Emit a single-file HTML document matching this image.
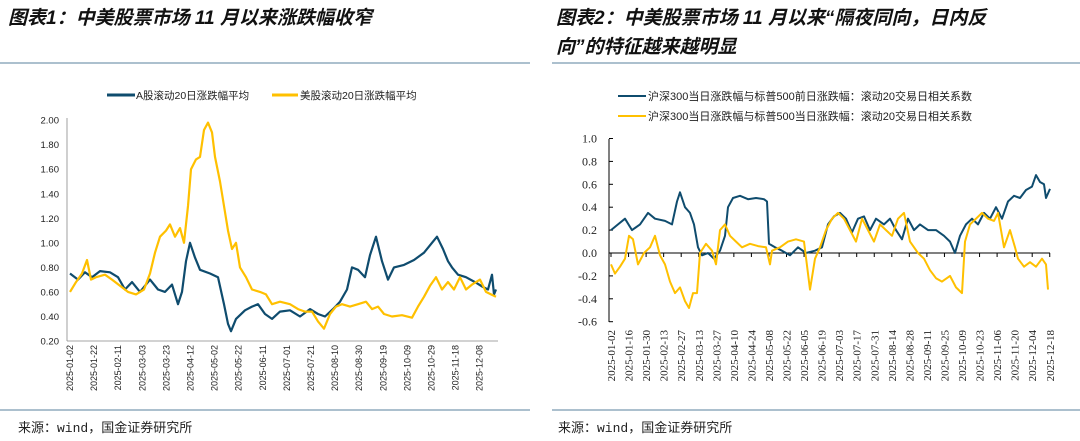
<!DOCTYPE html>
<html><head><meta charset="utf-8">
<style>
body{margin:0;background:#fff;width:1080px;height:441px;overflow:hidden;font-family:"Liberation Sans","Noto Sans CJK SC",sans-serif}
svg{position:absolute;left:0;top:0}
</style></head><body>
<svg id="s" width="1080" height="441" xmlns="http://www.w3.org/2000/svg">
<text x="8" y="24" font-size="19" font-weight="bold" font-style="italic" fill="#111" font-family="Liberation Sans,Noto Sans CJK SC,sans-serif">图表1：中美股票市场 11 月以来涨跌幅收窄</text>
<text x="556" y="24" font-size="19" font-weight="bold" font-style="italic" fill="#111" font-family="Liberation Sans,Noto Sans CJK SC,sans-serif">图表2：中美股票市场 11 月以来“隔夜同向，日内反</text>
<text x="556" y="53" font-size="19" font-weight="bold" font-style="italic" fill="#111" font-family="Liberation Sans,Noto Sans CJK SC,sans-serif">向”的特征越来越明显</text>
<line x1="0" y1="63" x2="530" y2="63" stroke="#7a9bb0" stroke-width="1.2"/>
<line x1="552" y1="63" x2="1080" y2="63" stroke="#7a9bb0" stroke-width="1.2"/>
<line x1="0" y1="410" x2="530" y2="410" stroke="#7a9bb0" stroke-width="1.2"/>
<line x1="552" y1="410" x2="1080" y2="410" stroke="#7a9bb0" stroke-width="1.2"/>
<text x="18" y="432" font-size="13" fill="#222" font-family="Liberation Mono,Noto Sans CJK SC,monospace">来源：wind，国金证券研究所</text>
<text x="558" y="432" font-size="13" fill="#222" font-family="Liberation Mono,Noto Sans CJK SC,monospace">来源：wind，国金证券研究所</text>
<!-- legend left -->
<line x1="107" y1="95" x2="135" y2="95" stroke="#0f4c6e" stroke-width="3"/>
<text x="136" y="99" font-size="10.5" fill="#222">A股滚动20日涨跌幅平均</text>
<line x1="272" y1="95" x2="298" y2="95" stroke="#ffc000" stroke-width="3"/>
<text x="300" y="99" font-size="10.5" fill="#222">美股滚动20日涨跌幅平均</text>
<!-- legend right -->
<line x1="618" y1="96" x2="646" y2="96" stroke="#0f4c6e" stroke-width="2"/>
<text x="648" y="100" font-size="11" fill="#222">沪深300当日涨跌幅与标普500前日涨跌幅：滚动20交易日相关系数</text>
<line x1="618" y1="116" x2="646" y2="116" stroke="#ffc000" stroke-width="2"/>
<text x="648" y="120" font-size="11" fill="#222">沪深300当日涨跌幅与标普500当日涨跌幅：滚动20交易日相关系数</text>
<g id="g"></g>
</svg>
<script>
var g=document.getElementById('g'),h='';
function t(x,y,s,sz,anc,ff,rot){h+='<text x="'+x+'" y="'+y+'" font-size="'+sz+'" text-anchor="'+anc+'" fill="#222" font-family="'+ff+'"'+(rot?' transform="rotate(-90 '+x+' '+y+')"':'')+'>'+s+'</text>';}
function L(a,b,c,d,col,w){h+='<line x1="'+a+'" y1="'+b+'" x2="'+c+'" y2="'+d+'" stroke="'+col+'" stroke-width="'+w+'"/>';}
function P(pts,f,col,w){var s=[];for(var i=0;i<pts.length;i+=2)s.push(pts[i]+','+f(pts[i+1]).toFixed(1));h+='<polyline points="'+s.join(' ')+'" fill="none" stroke="'+col+'" stroke-width="'+w+'" stroke-linejoin="round"/>';}
// left chart
var fy=function(v){return 341-(v-0.2)*122.7;};
L(67,118,67,341,'#888',0.8);L(67,341,498,341,'#888',0.8);
for(var v=0.2;v<2.01;v+=0.2){t(59,fy(v)+3.5,v.toFixed(2),9.5,'end','Liberation Sans');}
var dl=['01-02','01-22','02-11','03-03','03-23','04-12','05-02','05-22','06-11','07-01','07-21','08-10','08-30','09-19','10-09','10-29','11-18','12-08'];
for(var i=0;i<dl.length;i++){var x=70+i*24.1;t(x+3,345,'2025-'+dl[i],9,'end','Liberation Sans',1);}
P([70,0.75,78,0.7,85,0.76,92,0.72,100,0.77,110,0.76,118,0.72,125,0.62,132,0.68,140,0.6,150,0.7,158,0.62,165,0.6,172,0.66,178,0.5,182,0.6,186,0.85,190,1.0,195,0.88,200,0.78,210,0.75,218,0.72,224,0.5,228,0.34,231,0.28,236,0.38,245,0.45,252,0.48,258,0.5,265,0.42,272,0.38,280,0.44,290,0.45,300,0.4,310,0.46,318,0.42,325,0.4,333,0.46,340,0.52,347,0.62,352,0.8,358,0.78,365,0.72,370,0.9,376,1.05,382,0.85,388,0.7,394,0.8,404,0.82,414,0.86,424,0.92,432,1.0,437,1.05,443,0.95,448,0.85,452,0.8,458,0.74,466,0.72,475,0.68,483,0.64,488,0.62,492,0.74,494,0.58,496,0.62],fy,'#0f4c6e',2.2);
P([70,0.6,76,0.68,82,0.75,87,0.86,91,0.7,96,0.72,105,0.74,112,0.7,120,0.65,128,0.6,136,0.58,144,0.62,150,0.75,155,0.92,160,1.05,166,1.1,170,1.15,175,1.05,180,1.12,184,1.0,188,1.3,191,1.6,196,1.68,200,1.7,204,1.92,208,1.98,212,1.9,215,1.7,220,1.5,224,1.3,228,1.1,232,0.95,236,1.0,240,0.8,246,0.72,252,0.62,260,0.6,266,0.58,272,0.5,280,0.52,290,0.5,298,0.46,305,0.44,312,0.44,318,0.36,324,0.3,330,0.42,336,0.48,342,0.5,350,0.48,358,0.5,366,0.52,372,0.46,378,0.48,384,0.42,392,0.4,402,0.41,412,0.39,418,0.48,424,0.56,430,0.65,436,0.72,442,0.62,448,0.68,454,0.62,460,0.72,466,0.62,472,0.66,480,0.7,486,0.6,491,0.58,496,0.56],fy,'#ffc000',2.2);
// right chart
var gy=function(v){return 253-v*114.5;};
L(609,139,609,322,'#000',1);L(609,253,1050,253,'#000',1);
for(var v=-0.6;v<1.01;v+=0.2){var vv=Math.round(v*10)/10;t(597,gy(vv)+4,(vv==0?'0.0':vv.toFixed(1)),12,'end','Liberation Serif');L(609,gy(vv),613,gy(vv),'#000',1);}
var d2=['01-02','01-16','01-30','02-13','02-27','03-13','03-27','04-10','04-24','05-08','05-22','06-05','06-19','07-03','07-17','07-31','08-14','08-28','09-11','09-25','10-09','10-23','11-06','11-20','12-04','12-18'];
for(var i=0;i<d2.length;i++){var x=611+i*17.55;t(x+4,330,'2025-'+d2[i],11,'end','Liberation Serif',1);L(x,253,x,257,'#000',1);}
P([611,0.2,618,0.25,625,0.3,632,0.2,640,0.25,648,0.35,655,0.3,665,0.28,672,0.25,677,0.45,680,0.53,685,0.4,690,0.35,694,0.25,698,0.05,702,-0.02,708,0.0,714,-0.05,720,0.02,725,0.15,728,0.4,733,0.48,740,0.5,748,0.47,756,0.48,764,0.47,767,0.45,769,0.08,775,0.05,782,0.02,790,-0.02,798,0.05,806,0.0,815,0.02,822,0.05,828,0.25,834,0.32,840,0.35,846,0.3,852,0.18,858,0.3,864,0.32,870,0.2,876,0.3,884,0.25,890,0.3,896,0.2,902,0.12,908,0.3,914,0.2,920,0.25,928,0.2,936,0.2,944,0.15,950,0.1,955,0.0,960,0.15,966,0.25,972,0.3,978,0.25,984,0.35,990,0.3,996,0.4,1002,0.3,1008,0.45,1014,0.5,1020,0.48,1026,0.55,1032,0.58,1036,0.68,1040,0.62,1044,0.6,1046,0.48,1050,0.56],gy,'#0f4c6e',2);
P([611,-0.1,615,-0.18,620,-0.12,625,-0.05,629,0.15,633,0.12,638,-0.1,644,0.0,650,0.05,655,0.15,660,-0.02,665,-0.1,670,-0.25,675,-0.35,680,-0.3,685,-0.42,689,-0.48,693,-0.35,697,-0.35,700,0.0,706,0.08,712,0.02,716,-0.1,720,0.2,725,0.25,730,0.15,736,0.1,742,0.05,750,0.08,758,0.06,766,0.05,770,-0.1,772,0.02,780,0.05,788,0.1,796,0.12,804,0.1,810,-0.32,815,-0.05,820,0.05,826,0.2,832,0.3,838,0.35,844,0.3,850,0.2,856,0.1,862,0.3,868,0.2,874,0.1,880,0.25,886,0.2,892,0.15,898,0.3,904,0.35,910,0.1,918,0.0,924,-0.05,930,-0.15,936,-0.22,942,-0.25,950,-0.2,956,-0.3,962,-0.35,965,0.1,970,0.25,976,0.3,982,0.35,988,0.3,994,0.28,998,0.35,1004,0.05,1010,0.2,1015,0.05,1018,-0.05,1024,-0.12,1030,-0.08,1036,-0.12,1042,-0.05,1046,-0.1,1048,-0.32],gy,'#ffc000',2);
g.innerHTML=h;
</script>
</body></html>
